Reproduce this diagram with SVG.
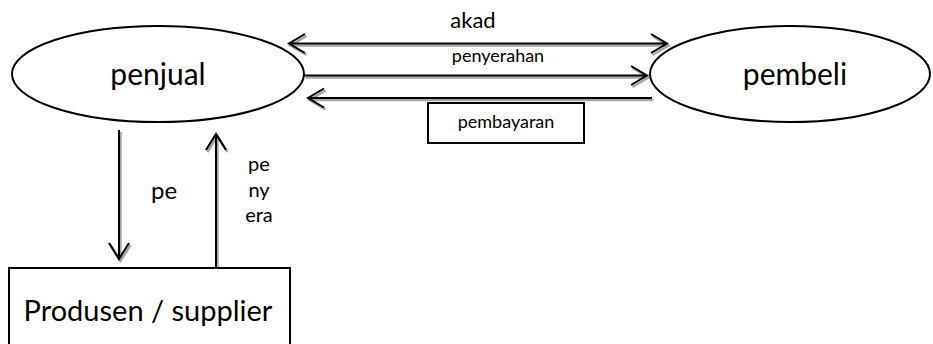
<svg xmlns="http://www.w3.org/2000/svg" width="933" height="344" viewBox="0 0 933 344">
<style>
  .node { fill: #fff; stroke: #000; stroke-width: 2; }
  .t { font-family: Lato, "Liberation Sans", sans-serif; fill: #000; text-anchor: middle; }
  .c { fill: none; stroke: #000; stroke-width: 2; stroke-linejoin: miter; }
  .sh { fill: none; stroke: #a6a6a6; stroke-width: 2.5; }
</style>
<defs>
  <clipPath id="clipPay"><rect x="428" y="103" width="156" height="28.5"/></clipPath>
</defs>
<rect width="933" height="344" fill="#fff"/>

<g id="connectors">
  <g id="c-akad">
    <path class="sh" transform="translate(1.5,2)" d="M289,43.5 H667 M305,34 L289,43.5 L305,53 M651,34 L667,43.5 L651,53"/>
    <path class="c" d="M289,43.5 H667 M305,34 L289,43.5 L305,53 M651,34 L667,43.5 L651,53"/>
  </g>
  <g id="c-penyerahan">
    <path class="sh" transform="translate(1.5,2)" d="M304,75.5 H647 M631,66 L647,75.5 L631,85"/>
    <path class="c" d="M304,75.5 H647 M631,66 L647,75.5 L631,85"/>
  </g>
  <g id="c-pembayaran">
    <path class="sh" transform="translate(1.5,2)" d="M652,98 H308 M324,88.5 L308,98 L324,107.5"/>
    <path class="c" d="M652,98 H308 M324,88.5 L308,98 L324,107.5"/>
  </g>
  <g id="c-down">
    <path class="sh" transform="translate(1.5,2)" d="M119,130 V259 M109,243 L119,259 L129,243"/>
    <path class="c" d="M119,130 V259 M109,243 L119,259 L129,243"/>
  </g>
  <g id="c-up">
    <path class="sh" transform="translate(1.5,2)" d="M216,266 V134 M206,150 L216,134 L226,150"/>
    <path class="c" d="M216,268 V134 M206,150 L216,134 L226,150"/>
  </g>
</g>

<g id="penjual">
  <ellipse class="node" cx="158" cy="74" rx="146" ry="48"/>
  <text class="t" x="158" y="85" font-size="30">penjual</text>
</g>

<g id="pembeli">
  <ellipse class="node" cx="790" cy="74" rx="140" ry="48"/>
  <text class="t" x="795" y="85" font-size="30">pembeli</text>
</g>

<g id="produsen">
  <rect class="node" x="9" y="268" width="281" height="90"/>
  <text class="t" x="148" y="321" font-size="29">Produsen / supplier</text>
</g>

<g id="label-akad">
  <text class="t" x="473" y="28" font-size="22">akad</text>
</g>
<g id="label-penyerahan">
  <text class="t" x="498" y="62" font-size="18">penyerahan</text>
</g>
<g id="label-pembayaran">
  <rect class="node" x="428" y="103" width="156" height="40"/>
  <text class="t" x="506" y="128" font-size="18" clip-path="url(#clipPay)">pembayaran</text>
</g>
<g id="label-down">
  <text class="t" x="164" y="199" font-size="24">pe</text>
</g>
<g id="label-up">
  <text class="t" x="259" y="171" font-size="20">pe</text>
  <text class="t" x="259" y="196.5" font-size="20">ny</text>
  <text class="t" x="259" y="222" font-size="20">era</text>
</g>
</svg>
